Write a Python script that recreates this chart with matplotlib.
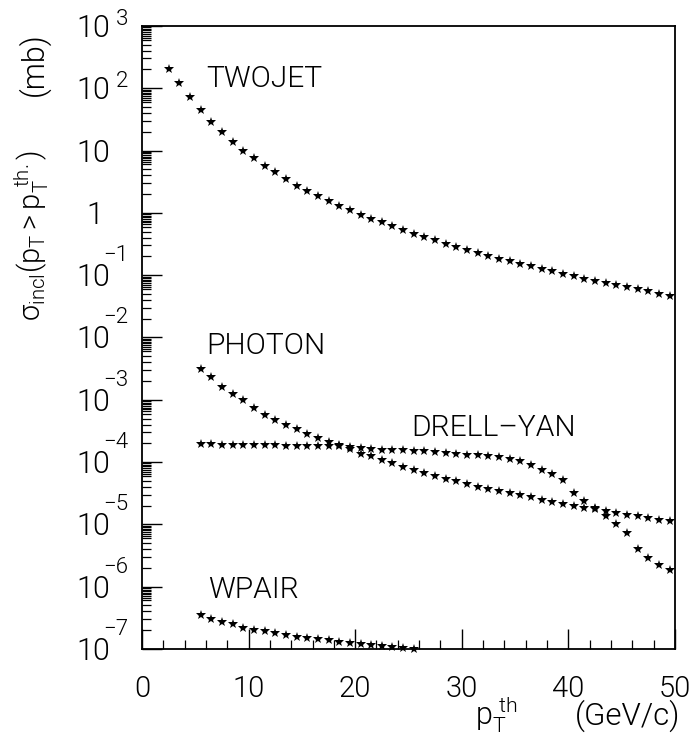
import matplotlib
matplotlib.use("Agg")
import matplotlib.pyplot as plt
from matplotlib.ticker import FixedLocator, MultipleLocator, NullFormatter
from matplotlib.transforms import offset_copy

plt.rcParams['font.family'] = ['Roboto', 'DejaVu Sans']
plt.rcParams['font.weight'] = 300
plt.rcParams['mathtext.fontset'] = 'custom'
plt.rcParams['mathtext.rm'] = 'Roboto'
plt.rcParams['mathtext.it'] = 'Roboto:italic'
plt.rcParams['mathtext.fallback'] = 'stixsans'

# pT thresholds (GeV/c)
pt = [5.5, 6.5, 7.5, 8.5, 9.5, 10.5, 11.5, 12.5, 13.5, 14.5, 15.5, 16.5,
      17.5, 18.5, 19.5, 20.5, 21.5, 22.5, 23.5, 24.5, 25.5, 26.5, 27.5,
      28.5, 29.5, 30.5, 31.5, 32.5, 33.5, 34.5, 35.5, 36.5, 37.5, 38.5,
      39.5, 40.5, 41.5, 42.5, 43.5, 44.5, 45.5, 46.5, 47.5, 48.5, 49.5]
pt_twojet = [2.5, 3.5, 4.5] + pt
pt_wpair = pt[:21]

# integrated cross sections (mb)
sig_twojet = [201, 123, 72.4, 44.7, 28.2, 19.5, 13.5, 9.7, 7.5, 5.7, 4.48,
              3.50, 2.74, 2.28, 1.89, 1.56, 1.31, 1.09, 0.929, 0.80, 0.71,
              0.604, 0.535, 0.461, 0.408, 0.361, 0.319, 0.282, 0.256, 0.226,
              0.204, 0.184, 0.166, 0.151, 0.138, 0.126, 0.115, 0.105, 0.0955,
              0.0881, 0.0813, 0.075, 0.0692, 0.0638, 0.0589, 0.055, 0.0507,
              0.0468]
sig_photon = [3.10e-3, 2.31e-3, 1.62e-3, 1.22e-3, 9.75e-4, 7.35e-4, 5.74e-4,
              4.72e-4, 3.97e-4, 3.38e-4, 2.81e-4, 2.43e-4, 2.09e-4, 1.86e-4,
              1.62e-4, 1.34e-4, 1.23e-4, 1.09e-4, 9.64e-5, 8.41e-5, 7.53e-5,
              6.67e-5, 6.04e-5, 5.41e-5, 4.90e-5, 4.49e-5, 4.02e-5, 3.73e-5,
              3.47e-5, 3.18e-5, 2.92e-5, 2.71e-5, 2.48e-5, 2.28e-5, 2.12e-5,
              2.00e-5, 1.86e-5, 1.74e-5, 1.62e-5, 1.52e-5, 1.43e-5, 1.35e-5,
              1.26e-5, 1.19e-5, 1.12e-5]
sig_drellyan = [1.95e-4, 1.95e-4, 1.90e-4, 1.90e-4, 1.87e-4, 1.87e-4,
                1.85e-4, 1.85e-4, 1.83e-4, 1.83e-4, 1.81e-4, 1.81e-4,
                1.78e-4, 1.78e-4, 1.72e-4, 1.68e-4, 1.64e-4, 1.58e-4,
                1.56e-4, 1.54e-4, 1.52e-4, 1.48e-4, 1.45e-4, 1.41e-4,
                1.36e-4, 1.31e-4, 1.28e-4, 1.23e-4, 1.19e-4, 1.13e-4,
                1.03e-4, 8.85e-5, 7.53e-5, 6.41e-5, 5.20e-5, 3.18e-5,
                2.40e-5, 1.82e-5, 1.38e-5, 1.02e-5, 7.24e-6, 4.07e-6,
                2.88e-6, 2.19e-6, 1.86e-6]
sig_wpair = [3.56e-7, 3.03e-7, 2.74e-7, 2.49e-7, 2.20e-7, 2.04e-7, 1.92e-7,
             1.79e-7, 1.66e-7, 1.57e-7, 1.52e-7, 1.45e-7, 1.37e-7, 1.28e-7,
             1.23e-7, 1.20e-7, 1.17e-7, 1.13e-7, 1.06e-7, 1.02e-7, 1.0e-7]

processes = [('TWOJET', pt_twojet, sig_twojet, 6.0, 104),
             ('PHOTON', pt, sig_photon, 6.0, 5.4e-3),
             ('DRELL\u2013YAN', pt, sig_drellyan, 25.3, 2.6e-4),
             ('WPAIR', pt_wpair, sig_wpair, 6.2, 6.6e-7)]

decades = list(range(-7, 4))

fig = plt.figure(figsize=(6.98, 7.4), dpi=100)
ax = fig.add_axes([0.2034, 0.123, 0.7636, 0.842])

for name, x, y, tx, ty in processes:
    ax.plot(x, y, ls='none', marker='*', ms=7.8, mew=0, color='black',
            clip_on=False)
    ax.text(tx, ty, name, fontsize=21.5, va='baseline', ha='left')

ax.set_yscale('log')
ax.set_xlim(0, 50)
ax.set_ylim(1e-7, 1e3)

ax.yaxis.set_major_locator(FixedLocator([10.0 ** k for k in decades]))
subs = [2, 3, 4, 5, 6, 6.5, 7, 7.5, 8, 8.5, 9, 9.5]
ax.yaxis.set_minor_locator(FixedLocator([m * 10.0 ** k for k in decades[:-1]
                                         for m in subs]))
ax.yaxis.set_major_formatter(NullFormatter())
ax.yaxis.set_minor_formatter(NullFormatter())
ax.xaxis.set_major_locator(MultipleLocator(10))
ax.xaxis.set_minor_locator(MultipleLocator(2))

ax.tick_params(which='major', direction='in', length=14.5, width=1.0)
ax.tick_params(which='minor', direction='in', length=6.5, width=0.9)
ax.tick_params(axis='x', labelsize=21, pad=19)
for s in ax.spines.values():
    s.set_linewidth(1.3)

# y tick labels: "10" with the exponent set above and to the right
ytrans = ax.get_yaxis_transform()
base_tr = offset_copy(ytrans, fig=fig, y=-11, units='dots')
for k in decades:
    if k == 0:
        ax.text(-0.072, 10.0 ** k, '1', transform=base_tr, fontsize=22,
                ha='right', va='baseline')
        continue
    ax.text(-0.060, 10.0 ** k, '10', transform=base_tr, fontsize=22,
            ha='right', va='baseline')
    if k == 1:
        continue
    lift = 1 if k > 0 else 14
    exp_tr = offset_copy(ytrans, fig=fig, y=lift, units='dots')
    ax.text(-0.026, 10.0 ** k, str(k).replace('-', '\u2212'), transform=exp_tr,
            fontsize=16, ha='right', va='baseline')

fig.text(0.048, 0.913, '(mb)', rotation=90, fontsize=22, ha='center',
         va='center')
fig.text(0.046, 0.682,
         r'$\mathrm{\sigma_{incl}(p_T > p_T^{\ th.})}$',
         rotation=90, fontsize=21, ha='center', va='center')
fig.text(0.68, 0.021, r'$\mathrm{p_T^{\ th}}$', fontsize=22, ha='left',
         va='baseline')
fig.text(0.975, 0.021, '(GeV/c)', fontsize=22.5, ha='right', va='baseline')

fig.savefig('out.png', dpi=100)
